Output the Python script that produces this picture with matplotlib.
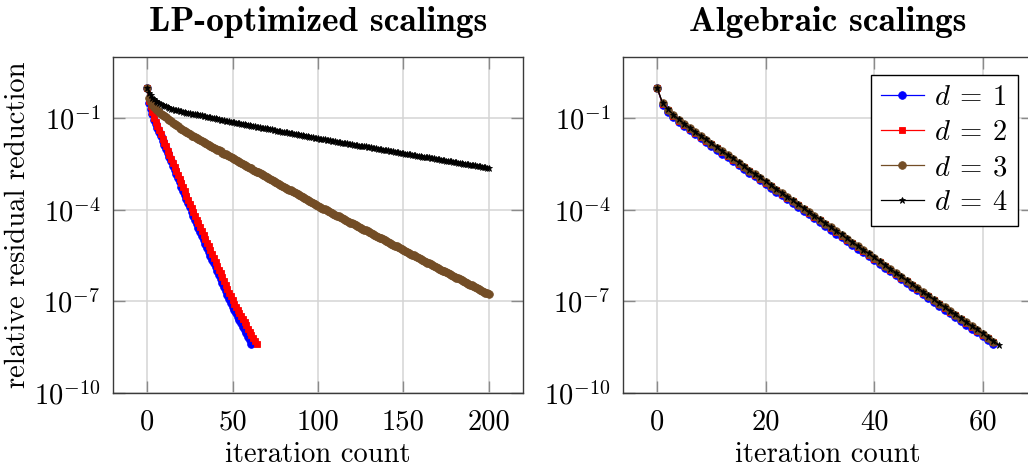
import matplotlib
matplotlib.use('Agg')
import matplotlib.pyplot as plt
import numpy as np

plt.rcParams['font.family'] = 'serif'
plt.rcParams['font.serif'] = ['cmr10']
plt.rcParams['mathtext.fontset'] = 'cm'
plt.rcParams['axes.unicode_minus'] = False

# log10 of the relative residual reduction, one value per iteration
lp_d1 = [-0.02, -0.50, -0.70, -0.88, -1.05, -1.19, -1.32, -1.46, -1.60, -1.74,
         -1.87, -2.01, -2.15, -2.28, -2.42, -2.56, -2.69, -2.83, -2.97, -3.10,
         -3.24, -3.38, -3.51, -3.65, -3.79, -3.92, -4.06, -4.20, -4.33, -4.46,
         -4.59, -4.72, -4.85, -4.98, -5.11, -5.24, -5.37, -5.50, -5.63, -5.76,
         -5.89, -6.02, -6.15, -6.28, -6.41, -6.54, -6.67, -6.80, -6.93, -7.06,
         -7.17, -7.28, -7.39, -7.50, -7.61, -7.72, -7.83, -7.94, -8.05, -8.16,
         -8.27, -8.38]
lp_d2 = [-0.02, -0.45, -0.62, -0.80, -1.00, -1.13, -1.27, -1.40, -1.53, -1.67,
         -1.80, -1.93, -2.07, -2.20, -2.34, -2.47, -2.60, -2.74, -2.87, -3.00,
         -3.14, -3.27, -3.40, -3.54, -3.67, -3.80, -3.94, -4.07, -4.20, -4.32,
         -4.45, -4.57, -4.70, -4.83, -4.95, -5.08, -5.20, -5.33, -5.46, -5.58,
         -5.71, -5.83, -5.96, -6.08, -6.21, -6.34, -6.46, -6.59, -6.71, -6.84,
         -6.97, -7.09, -7.19, -7.29, -7.39, -7.49, -7.59, -7.69, -7.79, -7.89,
         -7.99, -8.09, -8.19, -8.29, -8.39]
lp_d3 = [-0.02, -0.35, -0.47, -0.56, -0.63, -0.69, -0.75, -0.80, -0.85, -0.89,
         -0.94, -0.98, -1.03, -1.07, -1.11, -1.15, -1.19, -1.23, -1.27, -1.31,
         -1.35, -1.39, -1.42, -1.46, -1.50, -1.53, -1.57, -1.60, -1.63, -1.66,
         -1.69, -1.72, -1.75, -1.78, -1.81, -1.85, -1.88, -1.91, -1.94, -1.97,
         -2.00, -2.03, -2.06, -2.09, -2.13, -2.16, -2.19, -2.22, -2.25, -2.28,
         -2.31, -2.34, -2.37, -2.41, -2.44, -2.47, -2.50, -2.53, -2.56, -2.59,
         -2.62, -2.65, -2.69, -2.72, -2.75, -2.78, -2.81, -2.84, -2.87, -2.90,
         -2.94, -2.97, -3.00, -3.03, -3.06, -3.09, -3.12, -3.15, -3.18, -3.22,
         -3.25, -3.28, -3.31, -3.34, -3.37, -3.40, -3.43, -3.46, -3.50, -3.53,
         -3.56, -3.59, -3.62, -3.65, -3.68, -3.71, -3.75, -3.78, -3.81, -3.84,
         -3.87, -3.90, -3.93, -3.96, -3.99, -4.02, -4.04, -4.07, -4.10, -4.13,
         -4.16, -4.19, -4.22, -4.25, -4.28, -4.31, -4.33, -4.36, -4.39, -4.42,
         -4.45, -4.48, -4.51, -4.54, -4.57, -4.60, -4.62, -4.65, -4.68, -4.71,
         -4.74, -4.77, -4.80, -4.83, -4.86, -4.89, -4.91, -4.94, -4.97, -5.00,
         -5.03, -5.06, -5.09, -5.12, -5.15, -5.18, -5.20, -5.23, -5.26, -5.29,
         -5.32, -5.35, -5.38, -5.41, -5.44, -5.47, -5.49, -5.52, -5.55, -5.58,
         -5.61, -5.64, -5.67, -5.70, -5.73, -5.76, -5.78, -5.81, -5.84, -5.87,
         -5.90, -5.93, -5.96, -5.99, -6.02, -6.05, -6.07, -6.10, -6.13, -6.16,
         -6.19, -6.22, -6.25, -6.28, -6.31, -6.34, -6.36, -6.39, -6.42, -6.45,
         -6.48, -6.51, -6.54, -6.57, -6.60, -6.63, -6.65, -6.68, -6.71, -6.74,
         -6.77]
lp_d4 = [-0.02, -0.17, -0.26, -0.33, -0.38, -0.43, -0.47, -0.51, -0.54, -0.57,
         -0.60, -0.62, -0.65, -0.67, -0.69, -0.71, -0.72, -0.74, -0.75, -0.77,
         -0.78, -0.79, -0.81, -0.82, -0.83, -0.84, -0.85, -0.86, -0.87, -0.88,
         -0.89, -0.90, -0.91, -0.93, -0.94, -0.95, -0.96, -0.97, -0.99, -1.00,
         -1.01, -1.02, -1.03, -1.05, -1.06, -1.07, -1.08, -1.09, -1.11, -1.12,
         -1.13, -1.14, -1.15, -1.16, -1.17, -1.18, -1.19, -1.20, -1.21, -1.23,
         -1.24, -1.25, -1.26, -1.27, -1.28, -1.29, -1.30, -1.31, -1.32, -1.33,
         -1.34, -1.35, -1.36, -1.37, -1.38, -1.40, -1.41, -1.42, -1.43, -1.44,
         -1.45, -1.46, -1.47, -1.48, -1.49, -1.50, -1.51, -1.52, -1.53, -1.54,
         -1.55, -1.56, -1.58, -1.59, -1.60, -1.61, -1.62, -1.63, -1.64, -1.65,
         -1.66, -1.67, -1.68, -1.69, -1.70, -1.71, -1.72, -1.73, -1.74, -1.75,
         -1.76, -1.77, -1.78, -1.79, -1.80, -1.81, -1.82, -1.83, -1.84, -1.85,
         -1.86, -1.87, -1.88, -1.89, -1.90, -1.90, -1.91, -1.92, -1.93, -1.94,
         -1.95, -1.96, -1.97, -1.98, -1.99, -2.00, -2.01, -2.02, -2.03, -2.04,
         -2.05, -2.06, -2.07, -2.08, -2.09, -2.10, -2.11, -2.12, -2.13, -2.14,
         -2.15, -2.16, -2.17, -2.18, -2.19, -2.20, -2.21, -2.22, -2.23, -2.24,
         -2.25, -2.26, -2.27, -2.27, -2.28, -2.29, -2.30, -2.31, -2.32, -2.33,
         -2.34, -2.35, -2.36, -2.37, -2.38, -2.39, -2.40, -2.41, -2.42, -2.43,
         -2.44, -2.45, -2.46, -2.47, -2.48, -2.49, -2.50, -2.51, -2.51, -2.52,
         -2.53, -2.54, -2.55, -2.56, -2.57, -2.58, -2.59, -2.60, -2.61, -2.62,
         -2.63]

alg_d1 = [-0.01, -0.56, -0.79, -0.98, -1.13, -1.27, -1.40, -1.53, -1.66, -1.79,
          -1.91, -2.04, -2.16, -2.29, -2.41, -2.54, -2.66, -2.79, -2.91, -3.03,
          -3.16, -3.28, -3.41, -3.53, -3.66, -3.78, -3.91, -4.03, -4.15, -4.28,
          -4.40, -4.53, -4.65, -4.78, -4.90, -5.03, -5.15, -5.27, -5.40, -5.52,
          -5.65, -5.77, -5.90, -6.02, -6.15, -6.27, -6.39, -6.52, -6.64, -6.77,
          -6.89, -7.02, -7.14, -7.27, -7.39, -7.51, -7.64, -7.76, -7.89, -8.01,
          -8.14, -8.26, -8.39]
alg_d2 = [-0.01, -0.53, -0.75, -0.93, -1.08, -1.22, -1.35, -1.48, -1.61, -1.74,
          -1.86, -1.99, -2.11, -2.24, -2.36, -2.49, -2.61, -2.74, -2.86, -2.98,
          -3.11, -3.23, -3.36, -3.48, -3.61, -3.73, -3.86, -3.98, -4.10, -4.23,
          -4.35, -4.48, -4.60, -4.73, -4.85, -4.98, -5.10, -5.22, -5.35, -5.47,
          -5.60, -5.72, -5.85, -5.97, -6.10, -6.22, -6.34, -6.47, -6.59, -6.72,
          -6.84, -6.97, -7.09, -7.22, -7.34, -7.46, -7.59, -7.71, -7.84, -7.96,
          -8.09, -8.21, -8.34]
alg_d3 = [-0.01, -0.52, -0.73, -0.91, -1.06, -1.20, -1.33, -1.46, -1.59, -1.72,
          -1.84, -1.97, -2.09, -2.22, -2.34, -2.47, -2.59, -2.72, -2.84, -2.96,
          -3.09, -3.21, -3.34, -3.46, -3.59, -3.71, -3.84, -3.96, -4.08, -4.21,
          -4.33, -4.46, -4.58, -4.71, -4.83, -4.96, -5.08, -5.20, -5.33, -5.45,
          -5.58, -5.70, -5.83, -5.95, -6.08, -6.20, -6.32, -6.45, -6.57, -6.70,
          -6.82, -6.95, -7.07, -7.20, -7.32, -7.44, -7.57, -7.69, -7.82, -7.94,
          -8.07, -8.19, -8.32]
alg_d4 = [-0.01, -0.51, -0.71, -0.89, -1.04, -1.18, -1.31, -1.44, -1.57, -1.70,
          -1.82, -1.95, -2.07, -2.20, -2.32, -2.45, -2.57, -2.70, -2.82, -2.94,
          -3.07, -3.19, -3.32, -3.44, -3.57, -3.69, -3.82, -3.94, -4.06, -4.19,
          -4.31, -4.44, -4.56, -4.69, -4.81, -4.94, -5.06, -5.18, -5.31, -5.43,
          -5.56, -5.68, -5.81, -5.93, -6.06, -6.18, -6.30, -6.43, -6.55, -6.68,
          -6.80, -6.93, -7.05, -7.18, -7.30, -7.42, -7.55, -7.67, -7.80, -7.92,
          -8.05, -8.17, -8.30, -8.42]

labels = [r'$d\:=\:1$', r'$d\:=\:2$', r'$d\:=\:3$', r'$d\:=\:4$']
colors = ['#0000ff', '#ff0000', '#734d26', '#000000']
markers = ['o', 's', 'o', '*']
msizes = [5.5, 5.0, 5.5, 5.0]

lp_xticks = [0, 50, 100, 150, 200]
alg_xticks = [0, 20, 40, 60]
yticks = [1e-10, 1e-7, 1e-4, 1e-1]
ytick_labels = ['$10^{-10}$', '$10^{-7}$', '$10^{-4}$', '$10^{-1}$']

W, H = 1028, 472
fig = plt.figure(figsize=(W / 100, H / 100), dpi=100)
ax1 = fig.add_axes([113 / W, 1 - 393 / H, 410 / W, 336 / H])
ax2 = fig.add_axes([623 / W, 1 - 393 / H, 410 / W, 336 / H])

FS = 20.6

def style(ax, xticks, xlim):
	ax.set_yscale('log')
	ax.set_ylim(1e-10, 1e1)
	ax.set_xlim(*xlim)
	ax.set_yticks(yticks)
	ax.set_yticklabels(ytick_labels)
	ax.yaxis.set_minor_locator(matplotlib.ticker.NullLocator())
	ax.set_xticks(xticks)
	ax.set_xticklabels([str(t) for t in xticks])
	ax.grid(True, color='#d4d4d4', lw=1.1)
	ax.set_axisbelow(True)
	ax.tick_params(direction='in', length=8.5, width=1.0, color='#8a8a8a',
	               top=True, right=True, labelsize=FS)
	ax.tick_params(axis='x', pad=12)
	ax.tick_params(axis='y', pad=9)
	for s in ax.spines.values():
		s.set_color('#3a3a3a')
		s.set_linewidth(1.0)
	ax.set_xlabel('iteration count', fontsize=FS, labelpad=4)

handles = []
for ax, data in [(ax1, [lp_d1, lp_d2, lp_d3, lp_d4]), (ax2, [alg_d1, alg_d2, alg_d3, alg_d4])]:
	for i in range(4):
		y = 10 ** np.array(data[i])
		x = np.arange(len(y))
		h, = ax.plot(x, y, color=colors[i], marker=markers[i], ms=msizes[i],
		             mfc=colors[i], mec=colors[i], mew=0.6, lw=0.9, label=labels[i])
		if ax is ax2:
			handles.append(h)

style(ax1, lp_xticks, (-20, 220))
style(ax2, alg_xticks, (-6.3, 69.3))

ax1.set_ylabel('relative residual reduction', fontsize=FS, labelpad=2)
ax1.set_title('LP-optimized scalings', fontsize=25.5, fontfamily='cmb10', pad=19)
ax2.set_title('Algebraic scalings', fontsize=25.5, fontfamily='cmb10', pad=19)

leg = fig.legend(handles=handles, loc='upper left', bbox_to_anchor=(871 / W, 1 - 75 / H),
                 bbox_transform=fig.transFigure, fontsize=FS, frameon=True,
                 fancybox=False, framealpha=1, edgecolor='black',
                 handlelength=1.5, handletextpad=0.35, labelspacing=0.3,
                 borderpad=0.35, borderaxespad=0)
leg.get_frame().set_linewidth(1.0)

fig.savefig('out.png', dpi=100)
